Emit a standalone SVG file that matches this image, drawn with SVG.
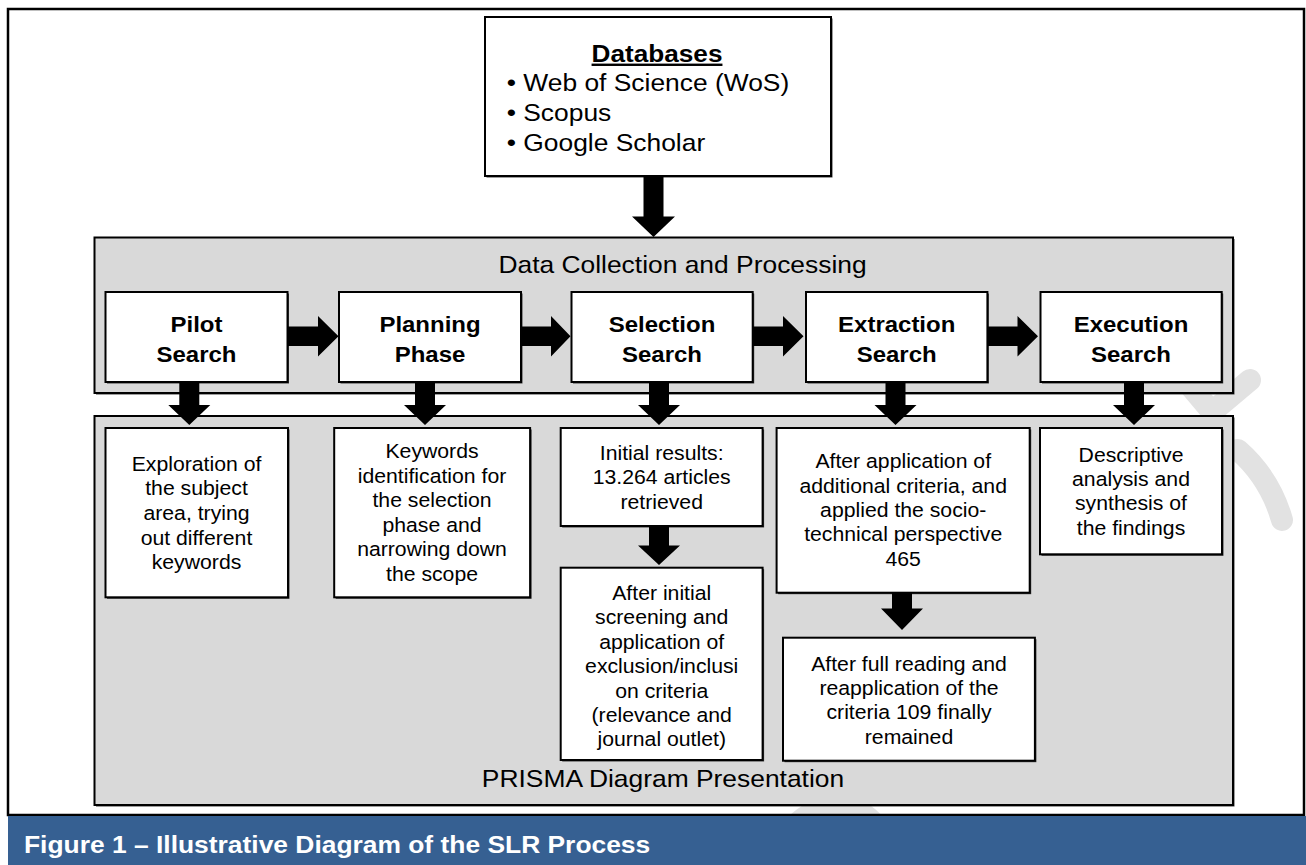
<svg xmlns="http://www.w3.org/2000/svg" width="1306" height="865" viewBox="0 0 1306 865">
  <style>
    text { font-family: "Liberation Sans", Arial, sans-serif; fill: #000; }
    .box { fill: #fff; stroke: #000; stroke-width: 2; }
    .panel { fill: #d9d9d9; stroke: #000; stroke-width: 2; }
    .shadow { fill: #3a3a3a; }
    .step { font-size: 21.8px; font-weight: bold; text-anchor: middle; }
    .body { font-size: 19.3px; text-anchor: middle; }
    .section { font-size: 24px; text-anchor: middle; }
    .db { font-size: 24px; }
    .dbhead { font-size: 23.8px; font-weight: bold; text-anchor: middle; text-decoration: underline; }
    .caption { font-size: 24px; font-weight: bold; fill: #fff; }
    .arrow { fill: #000; }
    .mark { fill: none; stroke: #e2e2e2; stroke-width: 22; stroke-linecap: round; stroke-linejoin: round; }
  </style>

  <rect x="0" y="0" width="1306" height="865" fill="#fff"/>

  <!-- faint background stamp -->
  <g id="stamp">
    <path class="mark" d="M1185,380 L1212,412 L1250,380"/>
    <path class="mark" d="M1238,450 Q1270,478 1282,520"/>
    <path class="mark" d="M790,830 Q840,780 880,830"/>
  </g>

  <!-- outer frame -->
  <rect x="8" y="9" width="1296" height="806" fill="none" stroke="#000" stroke-width="2.5"/>

  <!-- caption bar -->
  <g id="caption">
    <rect x="8" y="816" width="1298" height="49" fill="#366092"/>
    <text class="caption" transform="translate(24 0) scale(1.1 1)" x="0" y="853">Figure 1 – Illustrative Diagram of the SLR Process</text>
  </g>

  <!-- sources -->
  <g id="databases">
    <rect class="shadow" x="486.5" y="18.5" width="346" height="159"/>
    <rect class="box" x="485" y="17" width="346" height="159"/>
    <g transform="translate(657 0) scale(1.1 1)">
      <text class="dbhead" x="0" y="61.7">Databases</text>
    </g>
    <g transform="translate(506.7 0) scale(1.1 1)">
      <text class="db" x="0" y="91">• Web of Science (WoS)</text>
      <text class="db" x="0" y="121">• Scopus</text>
      <text class="db" x="0" y="151.5">• Google Scholar</text>
    </g>
  </g>

  <!-- process panel -->
  <g id="data-collection">
    <rect class="shadow" x="96" y="239" width="1138.5" height="155.5"/>
    <rect class="panel" x="94.5" y="237.5" width="1138.5" height="155.5"/>
    <g transform="translate(682.5 0) scale(1.1 1)">
      <text class="section" x="0" y="273.3">Data Collection and Processing</text>
    </g>
  </g>

  <!-- outcomes panel -->
  <g id="prisma">
    <rect class="shadow" x="96" y="417.5" width="1138.5" height="389"/>
    <rect class="panel" x="94.5" y="416" width="1138.5" height="389"/>
    <g transform="translate(663 0) scale(1.1 1)">
      <text class="section" x="0" y="786.7">PRISMA Diagram Presentation</text>
    </g>
  </g>

  <!-- stages -->
  <g id="pilot-search">
    <rect class="shadow" x="107" y="293.5" width="182" height="90"/>
    <rect class="box" x="105.5" y="292" width="182" height="90"/>
    <g transform="translate(196.5 0) scale(1.1 1)">
      <text class="step" x="0" y="331.7">Pilot</text>
      <text class="step" x="0" y="362">Search</text>
    </g>
  </g>
  <g id="planning-phase">
    <rect class="shadow" x="340.5" y="293.5" width="182" height="90"/>
    <rect class="box" x="339" y="292" width="182" height="90"/>
    <g transform="translate(430 0) scale(1.1 1)">
      <text class="step" x="0" y="331.7">Planning</text>
      <text class="step" x="0" y="362">Phase</text>
    </g>
  </g>
  <g id="selection-search">
    <rect class="shadow" x="573" y="293.5" width="181.2" height="90"/>
    <rect class="box" x="571.5" y="292" width="181.2" height="90"/>
    <g transform="translate(662 0) scale(1.1 1)">
      <text class="step" x="0" y="331.7">Selection</text>
      <text class="step" x="0" y="362">Search</text>
    </g>
  </g>
  <g id="extraction-search">
    <rect class="shadow" x="807.5" y="293.5" width="181.4" height="90"/>
    <rect class="box" x="806" y="292" width="181.4" height="90"/>
    <g transform="translate(896.7 0) scale(1.1 1)">
      <text class="step" x="0" y="331.7">Extraction</text>
      <text class="step" x="0" y="362">Search</text>
    </g>
  </g>
  <g id="execution-search">
    <rect class="shadow" x="1042" y="293.5" width="181.2" height="90"/>
    <rect class="box" x="1040.5" y="292" width="181.2" height="90"/>
    <g transform="translate(1131 0) scale(1.1 1)">
      <text class="step" x="0" y="331.7">Execution</text>
      <text class="step" x="0" y="362">Search</text>
    </g>
  </g>

  <!-- results -->
  <g id="exploration">
    <rect class="shadow" x="107" y="429.5" width="182.5" height="169.3"/>
    <rect class="box" x="105.5" y="428" width="182.5" height="169.3"/>
    <g transform="translate(196.5 0) scale(1.1 1)">
      <text class="body" x="0" y="470.7">Exploration of</text>
      <text class="body" x="0" y="495.4">the subject</text>
      <text class="body" x="0" y="520">area, trying</text>
      <text class="body" x="0" y="544.6">out different</text>
      <text class="body" x="0" y="569.3">keywords</text>
    </g>
  </g>
  <g id="keywords">
    <rect class="shadow" x="335.7" y="429.5" width="195.9" height="169.3"/>
    <rect class="box" x="334.2" y="428" width="195.9" height="169.3"/>
    <g transform="translate(432 0) scale(1.1 1)">
      <text class="body" x="0" y="458.3">Keywords</text>
      <text class="body" x="0" y="482.8">identification for</text>
      <text class="body" x="0" y="507.3">the selection</text>
      <text class="body" x="0" y="531.8">phase and</text>
      <text class="body" x="0" y="556.3">narrowing down</text>
      <text class="body" x="0" y="580.8">the scope</text>
    </g>
  </g>
  <g id="initial-results">
    <rect class="shadow" x="562.2" y="429.5" width="201.9" height="98"/>
    <rect class="box" x="560.7" y="428" width="201.9" height="98"/>
    <g transform="translate(661.7 0) scale(1.1 1)">
      <text class="body" x="0" y="460">Initial results:</text>
      <text class="body" x="0" y="484.5">13.264 articles</text>
      <text class="body" x="0" y="509">retrieved</text>
    </g>
  </g>
  <g id="screening">
    <rect class="shadow" x="562.2" y="569.2" width="201.9" height="192.3"/>
    <rect class="box" x="560.7" y="567.7" width="201.9" height="192.3"/>
    <g transform="translate(661.7 0) scale(1.1 1)">
      <text class="body" x="0" y="600">After initial</text>
      <text class="body" x="0" y="624.4">screening and</text>
      <text class="body" x="0" y="648.8">application of</text>
      <text class="body" x="0" y="673.2">exclusion/inclusi</text>
      <text class="body" x="0" y="697.6">on criteria</text>
      <text class="body" x="0" y="722">(relevance and</text>
      <text class="body" x="0" y="746.4">journal outlet)</text>
    </g>
  </g>
  <g id="additional-criteria">
    <rect class="shadow" x="778.1" y="429.5" width="253.1" height="164.7"/>
    <rect class="box" x="776.6" y="428" width="253.1" height="164.7"/>
    <g transform="translate(903.2 0) scale(1.1 1)">
      <text class="body" x="0" y="468.3">After application of</text>
      <text class="body" x="0" y="492.7">additional criteria, and</text>
      <text class="body" x="0" y="517.1">applied the socio-</text>
      <text class="body" x="0" y="541.5">technical perspective</text>
      <text class="body" x="0" y="565.9">465</text>
    </g>
  </g>
  <g id="full-reading">
    <rect class="shadow" x="784.5" y="639.2" width="251.9" height="123"/>
    <rect class="box" x="783" y="637.7" width="251.9" height="123"/>
    <g transform="translate(909 0) scale(1.1 1)">
      <text class="body" x="0" y="670.7">After full reading and</text>
      <text class="body" x="0" y="695">reapplication of the</text>
      <text class="body" x="0" y="719.3">criteria 109 finally</text>
      <text class="body" x="0" y="743.6">remained</text>
    </g>
  </g>
  <g id="synthesis">
    <rect class="shadow" x="1041.5" y="429.5" width="182" height="126.3"/>
    <rect class="box" x="1040" y="428" width="182" height="126.3"/>
    <g transform="translate(1131 0) scale(1.1 1)">
      <text class="body" x="0" y="461.7">Descriptive</text>
      <text class="body" x="0" y="486">analysis and</text>
      <text class="body" x="0" y="510.3">synthesis of</text>
      <text class="body" x="0" y="534.6">the findings</text>
    </g>
  </g>

  <!-- block arrows -->
  <g id="connectors" class="arrow">
    <!-- sources into process panel -->
    <path d="M643.5,176 H663.5 V216.5 H675 L653.5,237 L632,216.5 H643.5 Z"/>
    <!-- stage to stage -->
    <path d="M288,326.6 H318 V316 L338.5,336.3 L318,356.6 V346 H288 Z"/>
    <path d="M521,326.6 H551 V316 L570.5,336.3 L551,356.6 V346 H521 Z"/>
    <path d="M753,326.6 H783 V316 L803.5,336.3 L783,356.6 V346 H753 Z"/>
    <path d="M987.5,326.6 H1017.5 V316 L1038,336.3 L1017.5,356.6 V346 H987.5 Z"/>
    <!-- stage to result -->
    <path d="M179.3,382 H199.3 V405 H210.3 L189.3,425 L168.3,405 H179.3 Z"/>
    <path d="M415,382 H435 V405 H446 L425,425 L404,405 H415 Z"/>
    <path d="M649,382 H669 V405 H680 L659,425 L638,405 H649 Z"/>
    <path d="M885.5,382 H905.5 V405 H916.5 L895.5,425 L874.5,405 H885.5 Z"/>
    <path d="M1124,382 H1144 V405 H1155 L1134,425 L1113,405 H1124 Z"/>
    <!-- result to result -->
    <path d="M649,526 H669 V545.5 H680 L659,565 L638,545.5 H649 Z"/>
    <path d="M892,593 H912 V608.5 H923 L902,630 L881,608.5 H892 Z"/>
  </g>
</svg>
